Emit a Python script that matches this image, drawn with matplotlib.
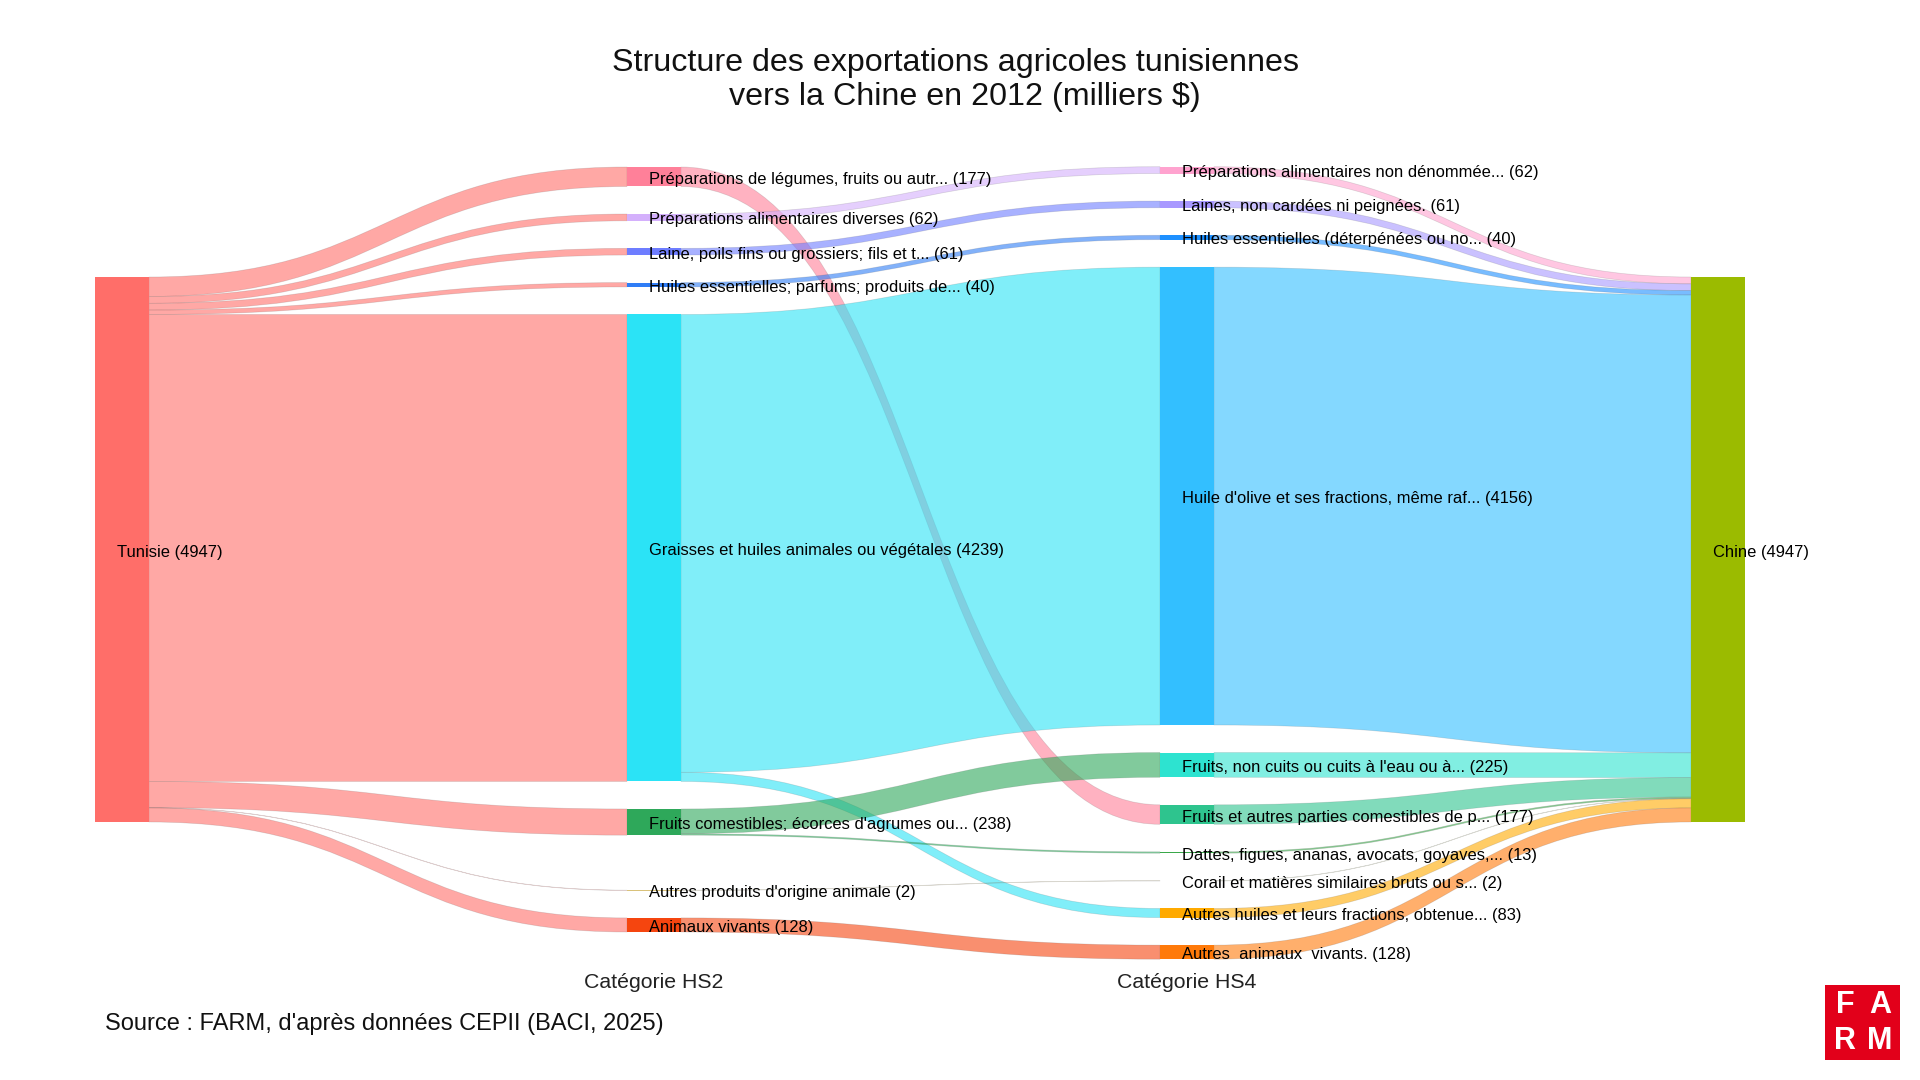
import matplotlib
matplotlib.use("Agg")
import matplotlib.pyplot as plt
from matplotlib.path import Path
from matplotlib.patches import PathPatch, Rectangle

plt.rcParams['font.family'] = ['Liberation Sans', 'DejaVu Sans']

# ---------------- data ----------------
origin_name = "Tunisie"
destination_name = "Chine"

hs2_names = [
    "Préparations de légumes, fruits ou autr...",
    "Préparations alimentaires diverses",
    "Laine, poils fins ou grossiers; fils et t...",
    "Huiles essentielles; parfums; produits de...",
    "Graisses et huiles animales ou végétales",
    "Fruits comestibles; écorces d'agrumes ou...",
    "Autres produits d'origine animale",
    "Animaux vivants",
]
hs2_values = [177, 62, 61, 40, 4239, 238, 2, 128]

hs4_names = [
    "Préparations alimentaires non dénommée...",
    "Laines, non cardées ni peignées.",
    "Huiles essentielles (déterpénées ou no...",
    "Huile d'olive et ses fractions, même raf...",
    "Fruits, non cuits ou cuits à l'eau ou à...",
    "Fruits et autres parties comestibles de p...",
    "Dattes, figues, ananas, avocats, goyaves,...",
    "Corail et matières similaires bruts ou s...",
    "Autres huiles et leurs fractions, obtenue...",
    "Autres  animaux  vivants.",
]
hs4_values = [62, 61, 40, 4156, 225, 177, 13, 2, 83, 128]

# HS2 -> HS4 links
link_src_hs2 = [0, 1, 2, 3, 4, 4, 5, 5, 6, 7]
link_tgt_hs4 = [5, 0, 1, 2, 3, 8, 4, 6, 7, 9]
link_values = [177, 62, 61, 40, 4156, 83, 225, 13, 2, 128]

total_value = sum(hs2_values)

# ---------------- styles / layout ----------------
origin_color = "#FF6E69"
destination_color = "#9BBB00"
hs2_colors = ["#FF8099", "#D4B0FC", "#6E7DFF", "#2F7DF6",
              "#2BE3F6", "#2EA85A", "#D9C27A", "#F5450F"]
hs4_colors = ["#FFA3CF", "#A898FF", "#1E90FF", "#33BFFF", "#2DE3D0",
              "#2EC48E", "#3AA84A", "#C8D08A", "#FFAA00", "#FF7A0A"]

W, H = 1920, 1080
NODE_W = 54
COL_X = [95, 627, 1160, 1691]
COL_TOP = [277, 167, 166.7, 277]
PX_PER_UNIT = 545.0 / total_value
GAP = 27.5
hs2_gap_mult = [1, 1, 1, 1, 1, 2, 1]
hs4_gap_mult = [1] * 9
LINK_ALPHA = 0.6
LABEL_FS = 11.9
LABEL_DY = 2.5

fig = plt.figure(figsize=(W / 100, H / 100), dpi=100)
ax = fig.add_axes([0, 0, 1, 1])
ax.set_xlim(0, W)
ax.set_ylim(H, 0)
ax.axis("off")

# ---------------- nodes ----------------
nodes = {}


def add_column(prefix, names, values, colors, col, gaps):
    y = COL_TOP[col]
    for i, (n, v, c) in enumerate(zip(names, values, colors)):
        h = v * PX_PER_UNIT
        nodes[(prefix, i)] = dict(x0=COL_X[col], y0=y, h=h, color=c,
                                  label=f"{n} ({v})")
        y += h
        if i < len(gaps):
            y += GAP * gaps[i]


add_column("o", [origin_name], [total_value], [origin_color], 0, [])
add_column("a", hs2_names, hs2_values, hs2_colors, 1, hs2_gap_mult)
add_column("b", hs4_names, hs4_values, hs4_colors, 2, hs4_gap_mult)
add_column("d", [destination_name], [sum(hs4_values)], [destination_color], 3, [])

links = []
for i, v in enumerate(hs2_values):
    links.append((("o", 0), ("a", i), v))
for s, t, v in zip(link_src_hs2, link_tgt_hs4, link_values):
    links.append((("a", s), ("b", t), v))
for i, v in enumerate(hs4_values):
    links.append((("b", i), ("d", 0), v))

# offsets: outgoing sorted by target position, incoming by source position
geo = {}
for key in nodes:
    outs = [k for k, l in enumerate(links) if l[0] == key]
    outs.sort(key=lambda k: nodes[links[k][1]]["y0"])
    off = nodes[key]["y0"]
    for k in outs:
        geo.setdefault(k, {})["ys"] = off
        off += links[k][2] * PX_PER_UNIT
    ins = [k for k, l in enumerate(links) if l[1] == key]
    ins.sort(key=lambda k: nodes[links[k][0]]["y0"])
    off = nodes[key]["y0"]
    for k in ins:
        geo.setdefault(k, {})["yt"] = off
        off += links[k][2] * PX_PER_UNIT

for k, (s, t, v) in enumerate(links):
    xs = nodes[s]["x0"] + NODE_W
    xt = nodes[t]["x0"]
    xm = (xs + xt) / 2
    ys = geo[k]["ys"]
    yt = geo[k]["yt"]
    h = v * PX_PER_UNIT
    verts = [(xs, ys), (xm, ys), (xm, yt), (xt, yt),
             (xt, yt + h), (xm, yt + h), (xm, ys + h), (xs, ys + h), (xs, ys)]
    codes = [Path.MOVETO, Path.CURVE4, Path.CURVE4, Path.CURVE4,
             Path.LINETO, Path.CURVE4, Path.CURVE4, Path.CURVE4, Path.CLOSEPOLY]
    ax.add_patch(PathPatch(Path(verts, codes), facecolor=nodes[s]["color"],
                           alpha=LINK_ALPHA, edgecolor="none", zorder=1 + k * 0.01))
    ax.add_patch(PathPatch(Path(verts, codes), facecolor="none",
                           edgecolor=(0.27, 0.27, 0.27, 0.18), linewidth=0.5,
                           zorder=1 + k * 0.01))

for key, n in nodes.items():
    ax.add_patch(Rectangle((n["x0"], n["y0"]), NODE_W, max(n["h"], 0.6),
                           facecolor=n["color"], edgecolor="none", zorder=5))
for key, n in nodes.items():
    ax.text(n["x0"] + 22, n["y0"] + n["h"] / 2 + LABEL_DY, n["label"],
            fontsize=LABEL_FS, ha="left", va="center", color="#000000", zorder=10)

# ---------------- annotations ----------------
ax.text(955, 62.5, "Structure des exportations agricoles tunisiennes",
        fontsize=23.2, ha="center", va="center", color="#111111")
ax.text(965, 96.5, "vers la Chine en 2012 (milliers $)",
        fontsize=23.2, ha="center", va="center", color="#111111")

ax.text(COL_X[1] + NODE_W / 2, 983, "Catégorie HS2", fontsize=15.3,
        ha="center", va="center", color="#222222")
ax.text(COL_X[2] + NODE_W / 2, 983, "Catégorie HS4", fontsize=15.3,
        ha="center", va="center", color="#222222")

ax.text(105, 1024, "Source : FARM, d'après données CEPII (BACI, 2025)",
        fontsize=17.05, ha="left", va="center", color="#111111")

# FARM logo
ax.add_patch(Rectangle((1825, 985), 75, 75, facecolor="#E2001A",
                       edgecolor="none", zorder=20))
for txt, x, y in [("F", 1845, 1005), ("A", 1880, 1005),
                  ("R", 1845, 1041), ("M", 1880, 1041)]:
    ax.text(x, y, txt, fontsize=22, fontweight="bold", color="white",
            ha="center", va="center", zorder=21)

fig.savefig("out.png", dpi=100, facecolor="white")
